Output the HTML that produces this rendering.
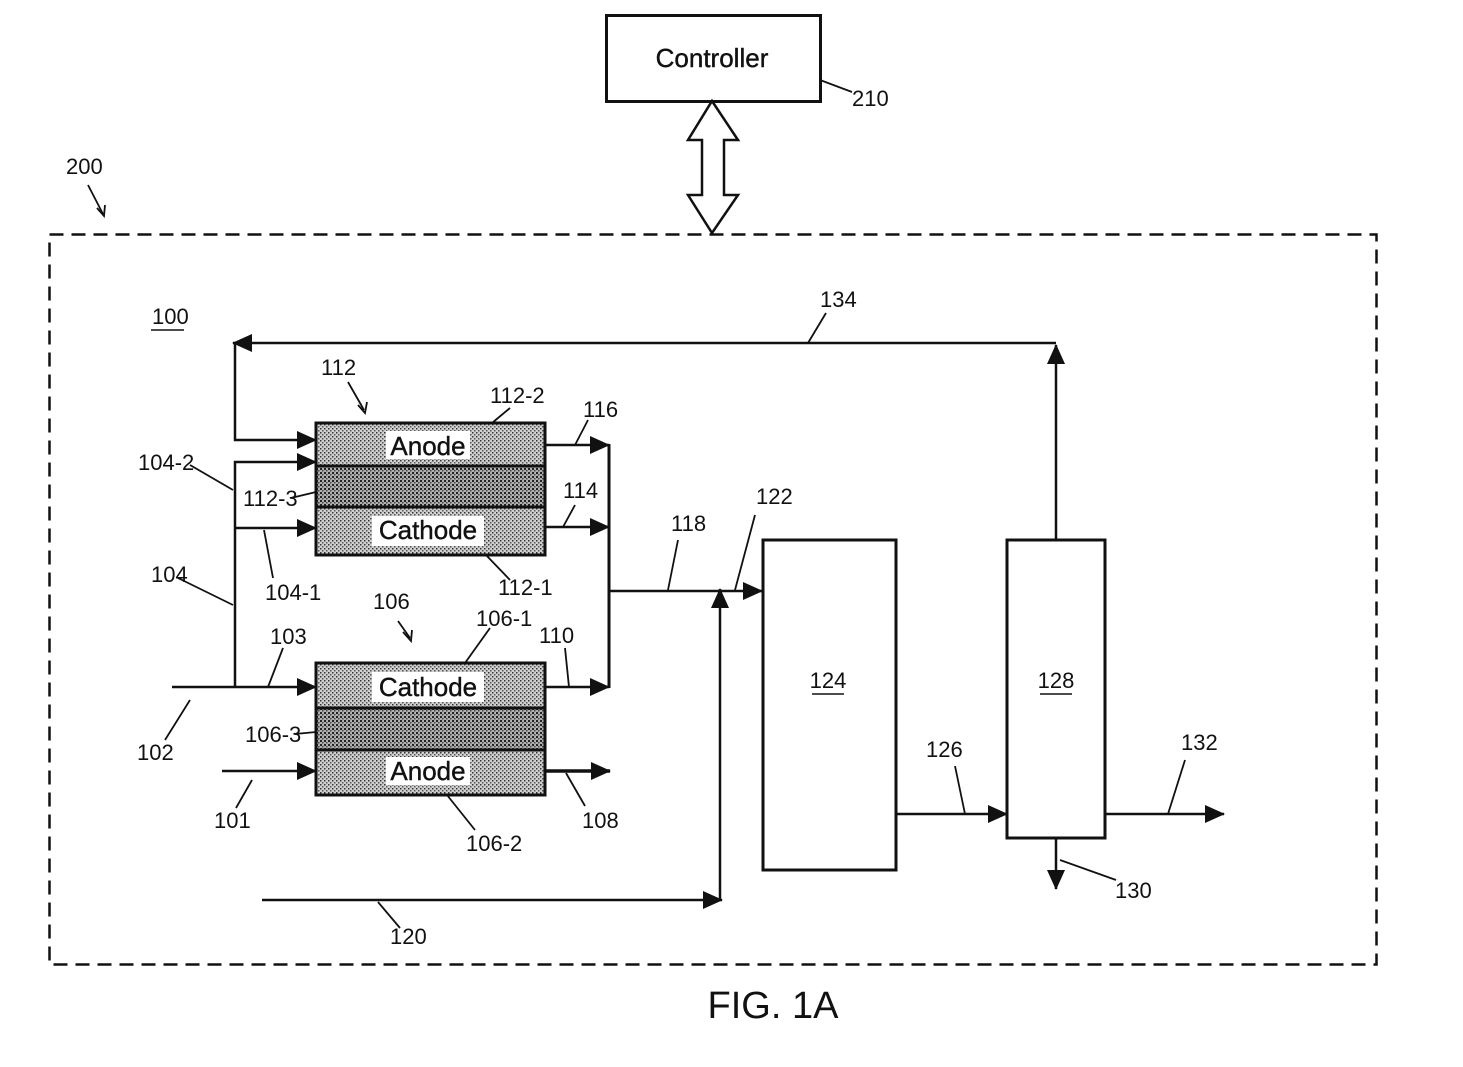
<!DOCTYPE html>
<html><head><meta charset="utf-8"><style>
html,body{margin:0;padding:0;background:#fff;}
svg{display:block;}
text{font-family:"Liberation Sans Narrow","Liberation Sans",sans-serif;fill:#111;}
</style></head><body>
<svg width="1463" height="1067" viewBox="0 0 1463 1067" xmlns="http://www.w3.org/2000/svg">
<defs>
<pattern id="dots" width="4" height="4" patternUnits="userSpaceOnUse">
<rect width="4" height="4" fill="#d0d0d0"/>
<rect x="0" y="0" width="1.5" height="1.5" fill="#333"/>
<rect x="2" y="2" width="1.5" height="1.5" fill="#555"/>
</pattern>
<pattern id="dots2" width="4" height="4" patternUnits="userSpaceOnUse">
<rect width="4" height="4" fill="#b0b0b0"/>
<rect x="0" y="0" width="2" height="2" fill="#222"/>
<rect x="2" y="2" width="1.5" height="1.5" fill="#444"/>
</pattern>
<marker id="ahb" markerWidth="20" markerHeight="18" refX="19" refY="9" orient="auto" markerUnits="userSpaceOnUse" viewBox="0 0 20 18">
<path d="M0,0 L20,9 L0,18 Z" fill="#111"/>
</marker>
</defs>

<rect x="606.5" y="15.5" width="214" height="86" fill="#fff" stroke="#111" stroke-width="3"/>
<text x="712" y="67" font-size="26" text-anchor="middle" font-family="Liberation Sans,sans-serif" stroke="#111" stroke-width="0.4">Controller</text>
<path d="M820,80 L852,92" stroke="#111" stroke-width="1.8" fill="none"/>
<text x="852" y="106" font-size="22">210</text>

<path d="M712,101 L738,140 L724,140 L724,195 L738,195 L712,233 L688,195 L702,195 L702,140 L688,140 Z" fill="#fff" stroke="#111" stroke-width="2.5"/>

<text x="66" y="174" font-size="22">200</text>
<path d="M88,185 L103,214" stroke="#111" stroke-width="1.8"/>
<path d="M97,208 L104,216 L105,205" stroke="#111" stroke-width="1.8" fill="none"/>

<rect x="49.5" y="234.5" width="1327" height="730" fill="none" stroke="#111" stroke-width="2.5" stroke-dasharray="14,8"/>

<text x="152" y="324" font-size="22">100</text>
<line x1="151" y1="330" x2="184" y2="330" stroke="#111" stroke-width="1.5"/>

<g stroke="#111" stroke-width="2.5" fill="none">
<line x1="1056" y1="540" x2="1056" y2="345" marker-end="url(#ahb)"/>
<line x1="1056" y1="343" x2="233" y2="343" marker-end="url(#ahb)"/>
<polyline points="235,343 235,440 316,440" marker-end="url(#ahb)"/>
<polyline points="235,687 235,462 316,462" marker-end="url(#ahb)"/>
<line x1="235" y1="528" x2="316" y2="528" marker-end="url(#ahb)"/>
<line x1="172" y1="687" x2="316" y2="687" marker-end="url(#ahb)"/>
<line x1="222" y1="771" x2="316" y2="771" marker-end="url(#ahb)"/>
<line x1="545" y1="445" x2="609" y2="445" marker-end="url(#ahb)"/>
<line x1="545" y1="527" x2="609" y2="527" marker-end="url(#ahb)"/>
<line x1="545" y1="687" x2="609" y2="687" marker-end="url(#ahb)"/>
<line x1="545" y1="771" x2="610" y2="771" stroke-width="3.5" marker-end="url(#ahb)"/>
<line x1="609" y1="444" x2="609" y2="688" stroke-width="3"/>
<line x1="609" y1="591" x2="762" y2="591" marker-end="url(#ahb)"/>
<line x1="262" y1="900" x2="722" y2="900" marker-end="url(#ahb)"/>
<line x1="720" y1="900" x2="720" y2="589" marker-end="url(#ahb)"/>
<line x1="896" y1="814" x2="1007" y2="814" marker-end="url(#ahb)"/>
<line x1="1056" y1="838" x2="1056" y2="889" marker-end="url(#ahb)"/>
<line x1="1105" y1="814" x2="1224" y2="814" marker-end="url(#ahb)"/>
</g>
<path d="M808,343 L826,313" stroke="#111" stroke-width="1.8"/>
<text x="820" y="307" font-size="22">134</text>

<rect x="316" y="423" width="229" height="43" fill="url(#dots)" stroke="#111" stroke-width="3"/>
<rect x="316" y="466" width="229" height="41" fill="url(#dots2)" stroke="#111" stroke-width="3"/>
<rect x="316" y="507" width="229" height="48" fill="url(#dots)" stroke="#111" stroke-width="3"/>
<rect x="386" y="431" width="84" height="28" fill="#fff"/>
<text x="428" y="455" font-size="26" text-anchor="middle" font-family="Liberation Sans,sans-serif" stroke="#111" stroke-width="0.4">Anode</text>
<rect x="372" y="516" width="112" height="30" fill="#fff"/>
<text x="428" y="539" font-size="26" text-anchor="middle" font-family="Liberation Sans,sans-serif" stroke="#111" stroke-width="0.4">Cathode</text>

<rect x="316" y="663" width="229" height="45" fill="url(#dots)" stroke="#111" stroke-width="3"/>
<rect x="316" y="708" width="229" height="42" fill="url(#dots2)" stroke="#111" stroke-width="3"/>
<rect x="316" y="750" width="229" height="45" fill="url(#dots)" stroke="#111" stroke-width="3"/>
<rect x="372" y="672" width="112" height="30" fill="#fff"/>
<text x="428" y="696" font-size="26" text-anchor="middle" font-family="Liberation Sans,sans-serif" stroke="#111" stroke-width="0.4">Cathode</text>
<rect x="386" y="757" width="84" height="28" fill="#fff"/>
<text x="428" y="780" font-size="26" text-anchor="middle" font-family="Liberation Sans,sans-serif" stroke="#111" stroke-width="0.4">Anode</text>

<rect x="763" y="540" width="133" height="330" fill="#fff" stroke="#111" stroke-width="3"/>
<text x="828" y="688" font-size="22" text-anchor="middle">124</text>
<line x1="812" y1="694" x2="844" y2="694" stroke="#111" stroke-width="1.5"/>

<rect x="1007" y="540" width="98" height="298" fill="#fff" stroke="#111" stroke-width="3"/>
<text x="1056" y="688" font-size="22" text-anchor="middle">128</text>
<line x1="1040" y1="694" x2="1072" y2="694" stroke="#111" stroke-width="1.5"/>

<g stroke="#111" stroke-width="1.8" fill="none">
<path d="M348,382 L364,410"/><path d="M358,405 L365,413 L367,402"/>
<path d="M510,408 L492,423"/>
<path d="M588,420 L575,445"/>
<path d="M575,505 L563,527"/>
<path d="M190,465 L233,490"/>
<path d="M291,498 L316,492"/>
<path d="M264,530 L273,578"/>
<path d="M486,555 L510,580"/>
<path d="M178,578 L233,605"/>
<path d="M398,621 L410,638"/><path d="M403,632 L411,641 L412,630"/>
<path d="M490,628 L465,663"/>
<path d="M565,648 L569,687"/>
<path d="M283,648 L268,687"/>
<path d="M190,700 L165,740"/>
<path d="M295,734 L316,732"/>
<path d="M252,780 L236,808"/>
<path d="M447,795 L475,830"/>
<path d="M566,773 L585,806"/>
<path d="M668,590 L678,540"/>
<path d="M735,590 L755,515"/>
<path d="M955,766 L965,814"/>
<path d="M1060,860 L1116,880"/>
<path d="M1168,814 L1185,760"/>
<path d="M378,902 L400,928"/>
</g>
<g font-size="22">
<text x="321" y="375">112</text>
<text x="490" y="403">112-2</text>
<text x="583" y="417">116</text>
<text x="563" y="498">114</text>
<text x="138" y="470">104-2</text>
<text x="243" y="506">112-3</text>
<text x="265" y="600">104-1</text>
<text x="498" y="595">112-1</text>
<text x="151" y="582">104</text>
<text x="373" y="609">106</text>
<text x="476" y="626">106-1</text>
<text x="539" y="643">110</text>
<text x="270" y="644">103</text>
<text x="137" y="760">102</text>
<text x="245" y="742">106-3</text>
<text x="214" y="828">101</text>
<text x="466" y="851">106-2</text>
<text x="582" y="828">108</text>
<text x="671" y="531">118</text>
<text x="756" y="504">122</text>
<text x="926" y="757">126</text>
<text x="1115" y="898">130</text>
<text x="1181" y="750">132</text>
<text x="390" y="944">120</text>
</g>

<text x="773" y="1018" font-size="38" text-anchor="middle" font-family="Liberation Sans,sans-serif">FIG. 1A</text>
</svg>
</body></html>
